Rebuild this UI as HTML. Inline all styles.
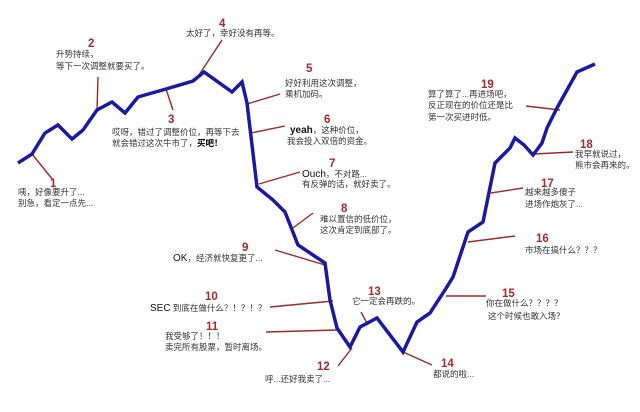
<!DOCTYPE html>
<html><head><meta charset="utf-8"><style>
html,body{margin:0;padding:0;background:#fff;width:640px;height:412px;overflow:hidden}
svg text{font-family:"Liberation Sans","Noto Sans CJK SC",sans-serif}
.t{font-size:8.5px;fill:#333}
.e{font-size:10px;fill:#111}
.n{font-size:11.5px;font-weight:bold;fill:#a52a2a}
.r{stroke:#a02828;stroke-width:1.4;fill:none}
</style></head><body>
<svg width="640" height="412" viewBox="0 0 640 412" xmlns="http://www.w3.org/2000/svg">
<g class="r">
<line x1="32" y1="154" x2="53" y2="180"/>
<line x1="97" y1="110" x2="98" y2="77"/>
<line x1="166" y1="89" x2="173" y2="110"/>
<line x1="195" y1="81" x2="222" y2="40"/>
<line x1="247" y1="104" x2="280" y2="94"/>
<line x1="251" y1="133" x2="285" y2="126"/>
<line x1="259" y1="184" x2="300" y2="172"/>
<line x1="293" y1="228" x2="313" y2="213"/>
<line x1="275" y1="250" x2="325" y2="265"/>
<line x1="270" y1="307" x2="333" y2="301"/>
<line x1="266" y1="332" x2="337" y2="330"/>
<line x1="338" y1="366" x2="352" y2="348"/>
<line x1="361" y1="312" x2="368" y2="325"/>
<line x1="403" y1="352" x2="432" y2="365"/>
<line x1="446" y1="296" x2="486" y2="296"/>
<line x1="468" y1="242" x2="515" y2="236"/>
<line x1="491" y1="193" x2="523" y2="188"/>
<line x1="534" y1="154" x2="573" y2="152"/>
<line x1="526" y1="106" x2="560" y2="110"/>
</g>
<polyline fill="none" stroke="#1a1aa0" stroke-width="3.5" points="18,163 32,154 45,133 58,125 72,139 83,130 97,110 112,102 125,113 138,97 166,89 193,81 204,72 232,92 242,82 247,103 257,187 273,200 285,212 298,245 325,263 330,300 337,328 350,347 360,327 377,318 403,352 417,322 430,313 445,290 453,277 468,232 483,222 495,163 510,148 515,138 524,145 533,155 542,143 547,128 557,108 577,72 595,64"/>
<g class="n">
<text x="50" y="187">1</text>
<text x="88" y="47">2</text>
<text x="168" y="123">3</text>
<text x="219" y="27">4</text>
<text x="306" y="72">5</text>
<text x="324" y="123">6</text>
<text x="329" y="167">7</text>
<text x="341" y="212">8</text>
<text x="242" y="251">9</text>
<text x="205" y="300">10</text>
<text x="206" y="330">11</text>
<text x="317" y="370">12</text>
<text x="368" y="295">13</text>
<text x="441" y="367">14</text>
<text x="502" y="297">15</text>
<text x="536" y="242">16</text>
<text x="541" y="187">17</text>
<text x="580" y="148">18</text>
<text x="481" y="88">19</text>
</g>
<g class="t">
<text x="18" y="195">咦，好像要升了...</text>
<text x="18" y="206">别急，看定一点先...</text>
<text x="56" y="57">升势持续，</text>
<text x="56" y="69">等下一次调整就要买了。</text>
<text x="112" y="135">哎呀，错过了调整价位，再等下去</text>
<text x="112" y="146">就会错过这次牛市了，<tspan font-weight="bold" fill="#000">买吧！</tspan></text>
<text x="186" y="36">太好了，幸好没有再等。</text>
<text x="285" y="86">好好利用这次调整，</text>
<text x="285" y="97">乘机加码。</text>
<text x="290" y="133"><tspan class="e" font-weight="bold">yeah</tspan>，这种价位，</text>
<text x="287" y="144">我会投入双倍的资金。</text>
<text x="302" y="177"><tspan class="e">Ouch</tspan>，不对路...</text>
<text x="302" y="187">有反弹的话，就好卖了。</text>
<text x="320" y="222">难以置信的低价位，</text>
<text x="320" y="233">这次肯定到底部了。</text>
<text x="173" y="261"><tspan class="e">OK</tspan>，经济就快复更了...</text>
<text x="150" y="311"><tspan class="e">SEC</tspan> 到底在做什么？！？！？</text>
<text x="165" y="339">我受够了！！！</text>
<text x="165" y="350">卖完所有股票，暂时离场。</text>
<text x="265" y="382">呼...还好我卖了...</text>
<text x="352" y="304">它一定会再跌的。</text>
<text x="433" y="377">都说的啦...</text>
<text x="486" y="306">你在做什么？？？？</text>
<text x="488" y="319">这个时候也敢入场？</text>
<text x="525" y="253">市场在搞什么？？？</text>
<text x="525" y="195">越来越多傻子</text>
<text x="525" y="207">进场作炮灰了...</text>
<text x="575" y="157">我早就说过，</text>
<text x="575" y="168">熊市会再来的。</text>
<text x="428" y="97">算了算了...再进场吧，</text>
<text x="428" y="108">反正现在的价位还是比</text>
<text x="428" y="120">第一次买进时低。</text>
</g>
</svg>
</body></html>
